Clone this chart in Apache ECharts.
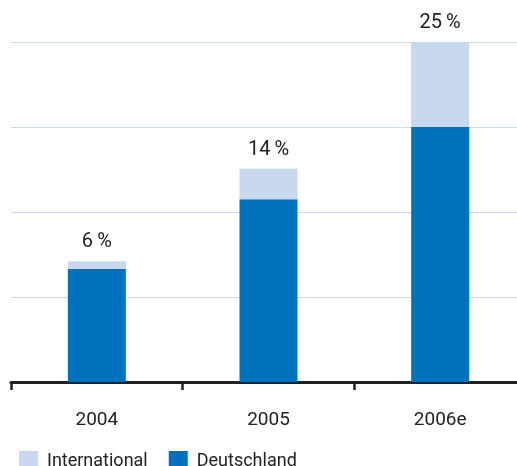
<!DOCTYPE html>
<html><head><meta charset="utf-8">
<script src="https://cdn.jsdelivr.net/npm/echarts@6/dist/echarts.min.js"></script>
<style>html,body{margin:0;padding:0;background:#fff;overflow:hidden}#c{width:526px;height:466px}</style>
</head><body><div id="c"></div>
<script>
const categories = ['2004', '2005', '2006e'];
const deutschland = [1.33, 2.15, 3.0];
const international = [0.09, 0.36, 1.0];
const totalLabels = ['6\u2009%', '14\u2009%', '25\u2009%'];
const yTicks = [0, 1, 2, 3, 4];

const FONT = 'Roboto, sans-serif';
const chart = echarts.init(document.getElementById('c'));
chart.setOption({
  animation: false,
  textStyle: { fontFamily: FONT },
  grid: { left: 11, right: 0, top: 42, bottom: 84, containLabel: false },
  legend: {
    left: 14, top: 446, itemWidth: 19, itemHeight: 20, itemGap: 21,
    icon: 'rect',
    data: ['International', 'Deutschland'],
    textStyle: { fontFamily: FONT, fontSize: 18, color: '#222', padding: [1, 0, 0, 4] }
  },
  xAxis: {
    type: 'category', data: categories,
    axisLine: { lineStyle: { color: '#222', width: 3 } },
    axisTick: { show: true, length: 8, lineStyle: { color: '#222', width: 2.5 } },
    axisLabel: { fontFamily: FONT, fontSize: 19, color: '#222', margin: 29 }
  },
  yAxis: {
    type: 'value', min: yTicks[0], max: yTicks[yTicks.length - 1], interval: 1,
    axisLine: { show: false }, axisTick: { show: false }, axisLabel: { show: false },
    splitLine: { lineStyle: { color: '#c8d8ee', width: 1 } }
  },
  series: [
    { name: 'Deutschland', type: 'bar', stack: 's', data: deutschland, barWidth: 58,
      itemStyle: { color: '#0071bc' } },
    { name: 'International', type: 'bar', stack: 's', data: international, barWidth: 58,
      itemStyle: { color: '#c7d8ef' },
      label: { show: true, position: 'top', distance: 9,
        formatter: p => totalLabels[p.dataIndex],
        fontFamily: FONT, fontSize: 20, color: '#222' } }
  ]
});
</script></body></html>
